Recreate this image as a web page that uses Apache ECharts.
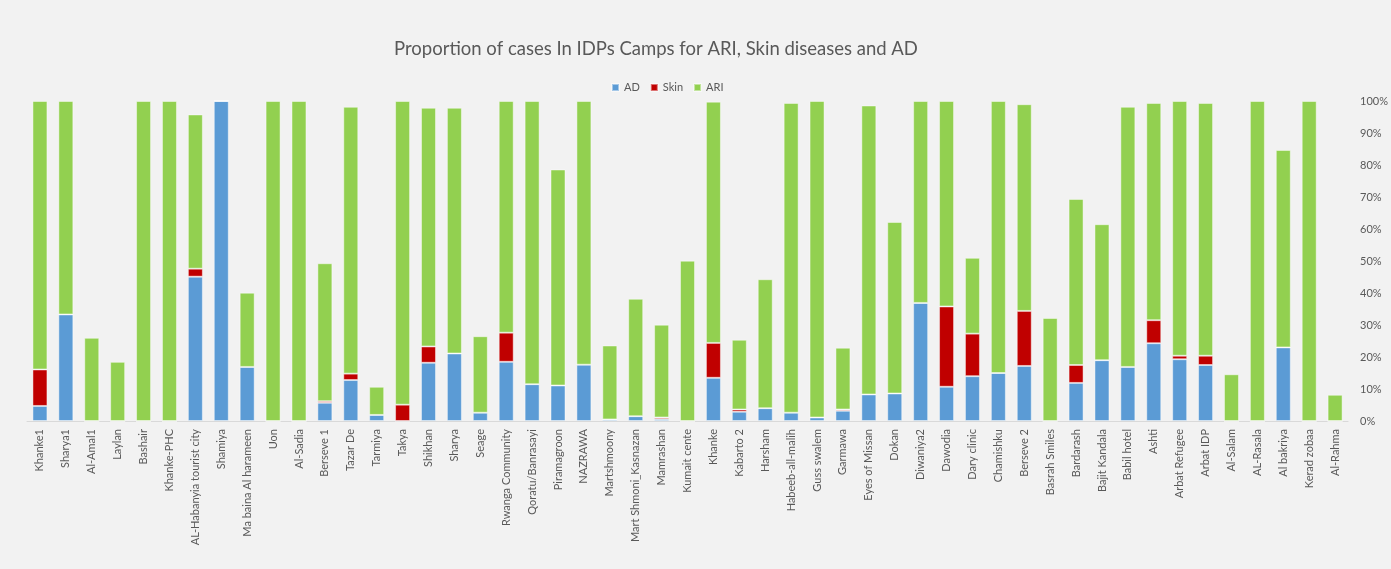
<!DOCTYPE html>
<html>
<head>
<meta charset="utf-8">
<title>Proportion of cases In IDPs Camps</title>
<script src="https://cdn.jsdelivr.net/npm/echarts@6/dist/echarts.min.js"></script>
<style>
  html, body { margin: 0; padding: 0; background: #f2f2f2; }
  #chart { width: 1391px; height: 569px; }
</style>
</head>
<body>
<div id="chart"></div>
<script>
// camps, in the order they appear on the x axis
var camps = [
  'Khanke1', 'Sharya1', 'Al-Amal1', 'Laylan', 'Bashair', 'Khanke-PHC',
  'AL-Habanyia tourist city', 'Shamiya', 'Ma baina Al harameen', 'Uon', 'Al-Sadia',
  'Berseve 1', 'Tazar De', 'Tarmiya', 'Takya', 'Shikhan', 'Sharya', 'Seage',
  'Rwanga Community', 'Qoratu/Banrasayi', 'Piramagroon', 'NAZRAWA', 'Martshmoony',
  'Mart Shmoni_Kasnazan', 'Mamrashan', 'Kumait cente', 'Khanke', 'Kabarto 2',
  'Harsham', 'Habeeb-all-malih', 'Guss swalem', 'Garmawa', 'Eyes of Missan', 'Dokan',
  'Diwaniya2', 'Dawodia', 'Dary clinic', 'Chamishku', 'Berseve 2', 'Basrah Smiles',
  'Bardarash', 'Bajit Kandala', 'Babil hotel', 'Ashti', 'Arbat Refugee', 'Arbat IDP',
  'Al-Salam', 'AL-Rasala', 'Al bakriya', 'Kerad zobaa', 'Al-Rahma'
]

// proportions in %
var adData = [
  4.7, 33.3, 0, 0, 0, 0, 45.1, 100, 16.9, 0, 0,
  5.7, 12.8, 1.9, 0, 18.2, 21.1, 2.6,
  18.5, 11.5, 11.1, 17.6, 0.5,
  1.5, 0.6, 0, 13.5, 2.9,
  4.0, 2.6, 1.1, 3.2, 8.3, 8.6,
  36.9, 10.7, 14.0, 15.0, 17.2, 0,
  11.9, 19.0, 16.9, 24.3, 19.3, 17.5,
  0, 0, 23.0, 0, 0
]
var skinData = [
  11.4, 0, 0, 0, 0, 0, 2.5, 0, 0, 0, 0,
  0.5, 2.0, 0, 5.1, 5.1, 0, 0,
  9.1, 0, 0, 0, 0,
  0, 0.5, 0, 10.9, 0.7,
  0, 0, 0, 0.4, 0, 0,
  0, 25.1, 13.3, 0, 17.2, 0,
  5.6, 0, 0, 7.2, 1.1, 2.9,
  0, 0, 0, 0, 0
]
var ariData = [
  83.9, 66.7, 26.0, 18.5, 100, 100, 48.2, 0, 23.2, 100, 100,
  43.1, 83.4, 8.8, 94.9, 74.6, 76.8, 23.9,
  72.4, 88.5, 67.5, 82.4, 23.1,
  36.7, 29.0, 50.1, 75.4, 21.8,
  40.3, 96.8, 98.9, 19.3, 90.3, 53.6,
  63.1, 64.2, 23.7, 85.0, 64.6, 32.2,
  51.9, 42.5, 81.3, 67.9, 79.6, 79.0,
  14.6, 100, 61.7, 100, 8.2
]

var yTicks = [0, 10, 20, 30, 40, 50, 60, 70, 80, 90, 100]

var chart = echarts.init(document.getElementById('chart'))

var textColor = '#595959'
var font = 'Lato, "Open Sans", sans-serif'

function barSeries(name, color, data) {
  return {
    name: name,
    type: 'bar',
    stack: 'total',
    barWidth: 15,
    itemStyle: {
      color: color,
      borderColor: 'rgba(255,255,255,0.45)',
      borderWidth: 1
    },
    data: data
  }
}

chart.setOption({
  backgroundColor: '#f2f2f2',
  textStyle: { fontFamily: font },
  title: {
    text: 'Proportion of cases In IDPs Camps for ARI, Skin diseases and AD',
    left: 651,
    top: 35,
    textAlign: 'center',
    textStyle: {
      color: textColor,
      fontSize: 18.5,
      fontWeight: 'normal',
      fontFamily: font
    }
  },
  legend: {
    top: 77,
    left: 606,
    itemWidth: 7,
    itemHeight: 7,
    itemGap: 10,
    icon: 'rect',
    textStyle: { color: textColor, fontSize: 11 },
    data: ['AD', 'Skin', 'ARI']
  },
  grid: {
    left: 27,
    right: 41,
    top: 101,
    bottom: 148
  },
  xAxis: {
    type: 'category',
    data: camps,
    axisLine: { lineStyle: { color: '#d9d9d9' } },
    axisTick: { show: false },
    axisLabel: {
      interval: 0,
      rotate: 90,
      color: textColor,
      fontSize: 11,
      margin: 8
    }
  },
  yAxis: {
    type: 'value',
    position: 'right',
    min: yTicks[0],
    max: yTicks[yTicks.length - 1],
    interval: 10,
    splitLine: { show: false },
    axisLine: { show: false },
    axisTick: { show: false },
    axisLabel: {
      color: textColor,
      fontSize: 11,
      margin: 12,
      formatter: '{value}%'
    }
  },
  series: [
    barSeries('AD', '#5b9bd5', adData),
    barSeries('Skin', '#c00000', skinData),
    barSeries('ARI', '#92d050', ariData)
  ]
})
</script>
</body>
</html>
